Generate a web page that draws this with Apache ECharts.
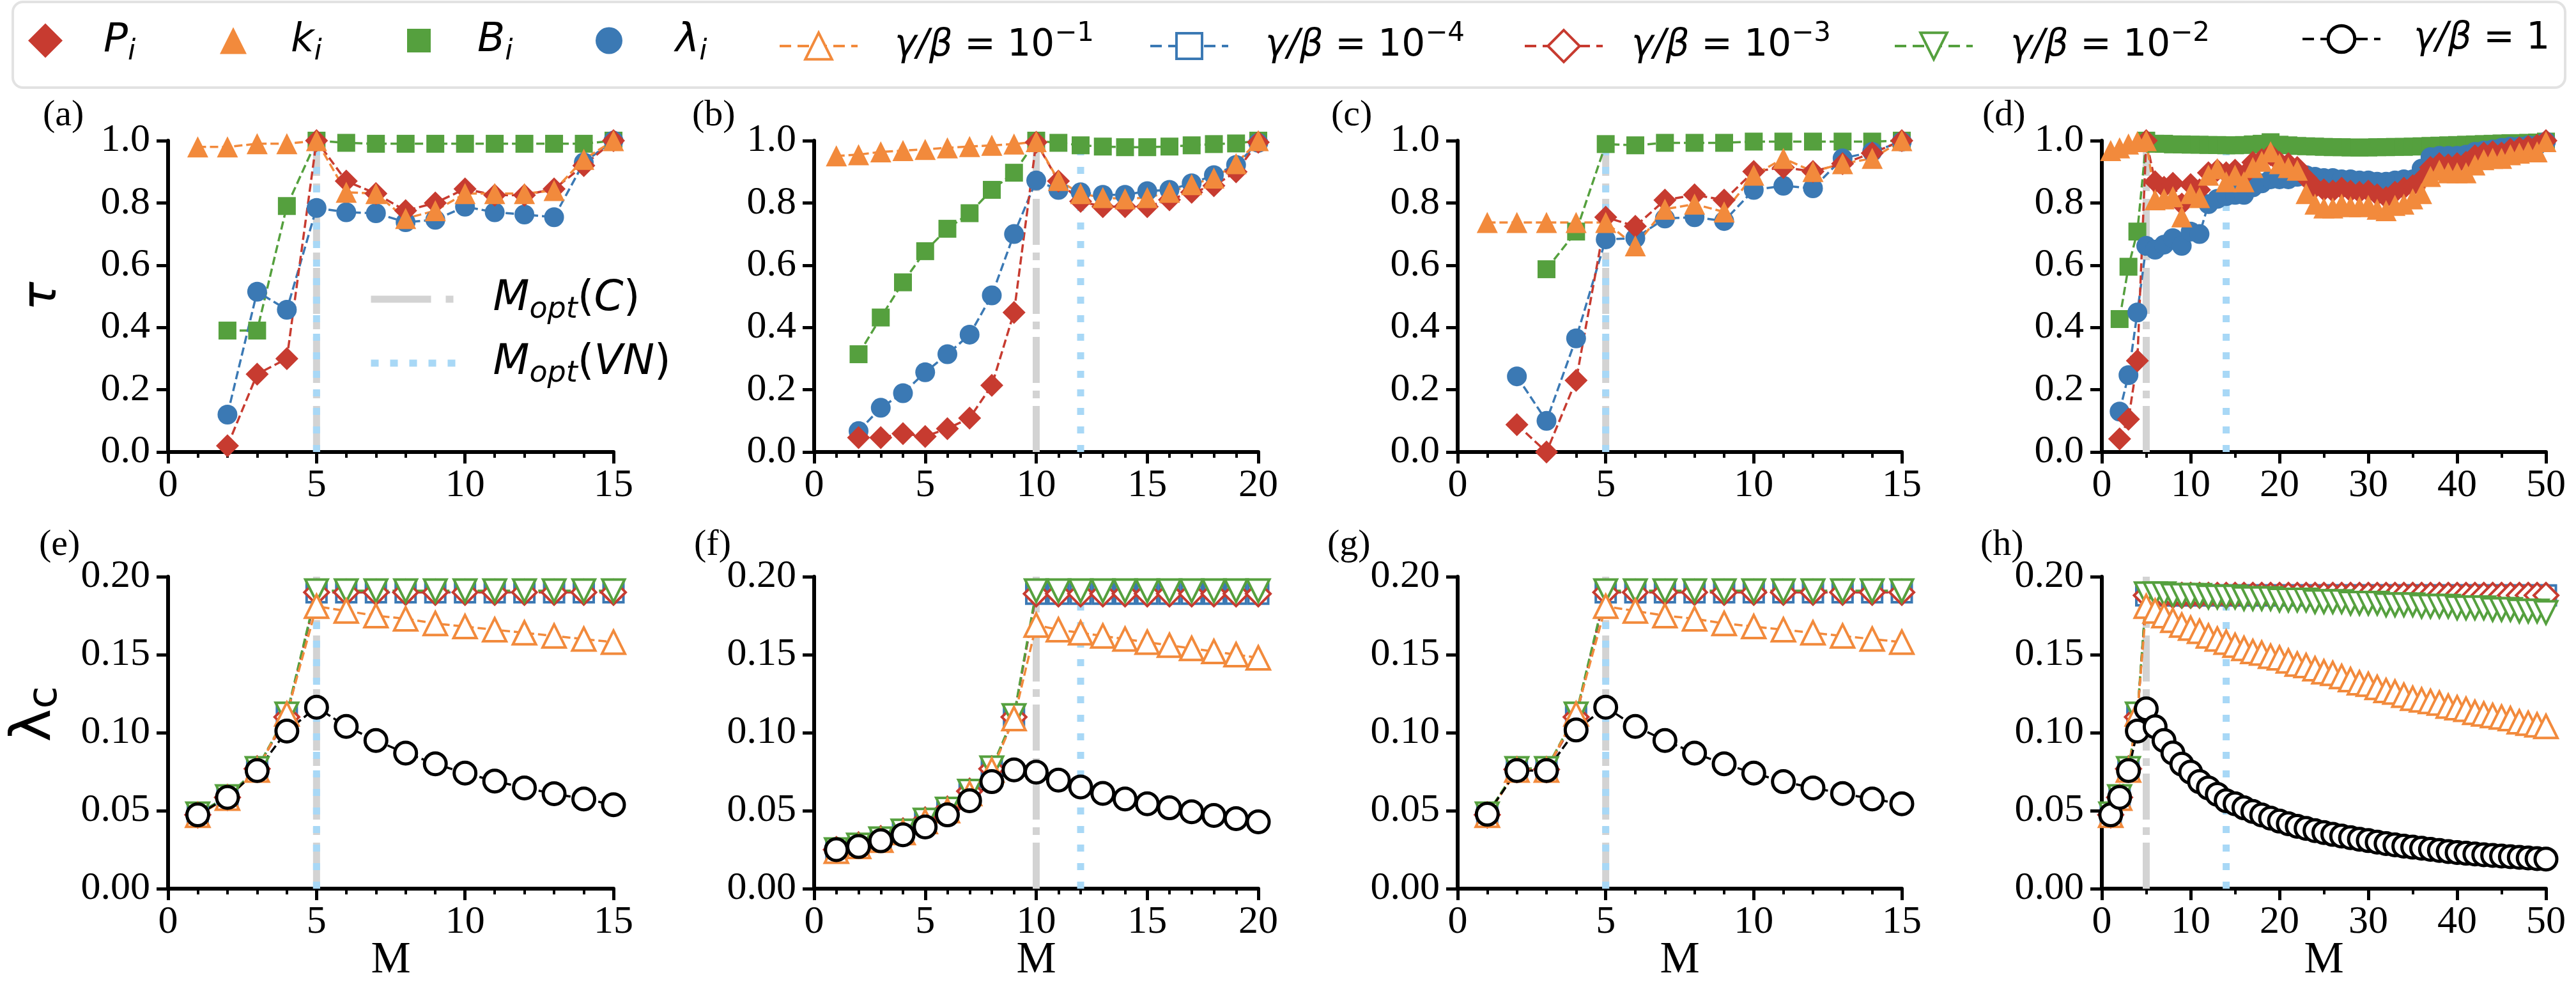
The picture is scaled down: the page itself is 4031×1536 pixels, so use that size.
<!DOCTYPE html>
<html><head><meta charset="utf-8">
<script src="https://cdn.jsdelivr.net/npm/echarts/dist/echarts.min.js"></script>
<style>html,body{margin:0;padding:0;background:#fff}#c{width:4031px;height:1536px}</style>
</head><body><div id="c"></div>
<script>
// ---------------- DATA ----------------
// x axes (M) per column
const xMax = [15, 20, 15, 50];
const xInterval = [5, 5, 5, 10];
const xMinorSplit = [5, 5, 5, 2];
// optimal M markers per column
const moptC = [5, 10, 5, 5];
const moptVN = [5, 12, 5, 14];
const topLabels = ['(a)', '(b)', '(c)', '(d)'];
const bottomLabels = ['(e)', '(f)', '(g)', '(h)'];

// ---- tau panels (values at M = 1, 2, 3, ...) ----
const a_P = [null,0.02,0.25,0.30,1.0,0.87,0.83,0.775,0.80,0.845,0.825,0.825,0.845,0.92,1.0];
const a_k = [0.98,0.98,0.99,0.99,1.0,0.834,0.83,0.75,0.775,0.83,0.83,0.83,0.84,0.94,1.0];
const a_B = [null,0.39,0.39,0.79,1.0,0.993,0.99,0.99,0.99,0.99,0.99,0.99,0.99,0.99,1.0];
const a_L = [null,0.12,0.515,0.457,0.784,0.77,0.767,0.738,0.746,0.788,0.77,0.763,0.754,0.93,1.0];

const b_P = [null,0.046,0.046,0.059,0.05,0.075,0.109,0.214,0.448,0.995,0.87,0.805,0.788,0.788,0.788,0.81,0.834,0.855,0.90,0.995];
const b_k = [0.951,0.955,0.964,0.968,0.972,0.977,0.981,0.985,0.989,0.997,0.872,0.83,0.817,0.813,0.817,0.834,0.859,0.88,0.926,1.0];
const b_B = [null,0.314,0.432,0.545,0.645,0.717,0.767,0.842,0.897,1.0,0.993,0.985,0.981,0.979,0.979,0.981,0.985,0.989,0.991,1.0];
const b_L = [null,0.067,0.142,0.189,0.256,0.314,0.377,0.503,0.70,0.872,0.842,0.834,0.826,0.826,0.838,0.842,0.863,0.889,0.922,0.993];

const c_P = [null,0.088,0.0,0.23,0.754,0.725,0.809,0.826,0.809,0.901,0.914,0.901,0.926,0.96,1.0];
const c_k = [0.737,0.737,0.737,0.737,0.737,0.662,0.78,0.796,0.771,0.889,0.943,0.901,0.926,0.943,1.0];
const c_B = [null,null,0.587,0.708,0.989,0.985,0.993,0.993,0.993,0.997,0.997,0.997,0.997,0.997,1.0];
const c_L = [null,0.243,0.10,0.365,0.683,0.687,0.75,0.754,0.742,0.842,0.855,0.847,0.943,0.964,0.997];

const d_P = [null,0.042,0.105,0.293,1.0,0.868,0.85,0.863,0.796,0.859,0.842,0.897,0.905,0.897,0.905,0.889,0.93,0.939,0.955,0.93,0.926,0.914,0.88,0.85,0.842,0.838,0.847,0.838,0.834,0.838,0.826,0.817,0.834,0.847,0.855,0.876,0.914,0.926,0.922,0.926,0.93,0.951,0.96,0.964,0.96,0.972,0.977,0.981,0.985,1.0];
const d_k = [0.968,0.977,0.989,0.997,1.0,0.81,0.813,0.82,0.755,0.83,0.817,0.889,0.91,0.868,0.889,0.868,0.914,0.934,0.964,0.926,0.914,0.905,0.83,0.796,0.784,0.784,0.796,0.788,0.788,0.792,0.78,0.775,0.792,0.796,0.813,0.83,0.885,0.905,0.897,0.897,0.897,0.922,0.939,0.943,0.943,0.955,0.96,0.964,0.964,0.997];
const d_B = [null,0.427,0.595,0.708,1.0,0.99,0.99,0.988,0.988,0.987,0.987,0.986,0.986,0.985,0.985,0.986,0.988,0.99,0.995,0.987,0.985,0.983,0.982,0.981,0.98,0.979,0.979,0.978,0.978,0.978,0.979,0.979,0.98,0.98,0.981,0.982,0.983,0.984,0.985,0.986,0.987,0.988,0.989,0.99,0.991,0.992,0.992,0.993,0.994,0.997];
const d_L = [null,0.13,0.247,0.448,0.662,0.65,0.666,0.687,0.662,0.708,0.70,0.796,0.813,0.822,0.826,0.826,0.85,0.863,0.876,0.876,0.876,0.884,0.889,0.884,0.88,0.88,0.876,0.876,0.872,0.872,0.868,0.868,0.872,0.876,0.876,0.91,0.947,0.951,0.951,0.951,0.955,0.964,0.968,0.972,0.977,0.981,0.981,0.985,0.985,0.997];

// ---- lambda_c panels (values at M = 1, 2, 3, ...) ----
const e_g4 = [0.048,0.059,0.077,0.111,0.19,0.19,0.19,0.19,0.19,0.19,0.19,0.19,0.19,0.19,0.19];
const e_g3 = [0.0473,0.0585,0.0768,0.110,0.19,0.19,0.19,0.19,0.19,0.19,0.19,0.19,0.19,0.19,0.19];
const e_g2 = [0.048,0.059,0.077,0.112,0.191,0.191,0.191,0.191,0.191,0.191,0.191,0.191,0.191,0.191,0.191];
const e_g1 = [0.047,0.058,0.076,0.112,0.181,0.178,0.175,0.173,0.170,0.168,0.166,0.164,0.162,0.160,0.158];
const e_g0 = [0.0473,0.0585,0.0757,0.101,0.1163,0.104,0.095,0.0869,0.080,0.0741,0.069,0.0646,0.0609,0.0575,0.0538];

const f_g4 = [0.025,0.028,0.032,0.037,0.044,0.051,0.0625,0.0768,0.110,0.189,0.189,0.189,0.189,0.189,0.189,0.189,0.189,0.189,0.189,0.189];
const f_g3 = [0.025,0.028,0.032,0.037,0.044,0.051,0.0625,0.0768,0.110,0.189,0.189,0.189,0.189,0.189,0.189,0.189,0.189,0.189,0.189,0.189];
const f_g2 = [0.025,0.028,0.032,0.037,0.044,0.051,0.0625,0.0775,0.111,0.191,0.191,0.191,0.191,0.191,0.191,0.191,0.191,0.191,0.191,0.191];
const f_g1 = [0.024,0.027,0.031,0.036,0.043,0.050,0.061,0.076,0.109,0.169,0.166,0.164,0.162,0.160,0.158,0.156,0.154,0.152,0.150,0.148];
const f_g0 = [0.025,0.027,0.0307,0.0345,0.0396,0.0473,0.0564,0.0686,0.0761,0.0747,0.0696,0.0652,0.0611,0.0575,0.0544,0.0518,0.0493,0.0469,0.0449,0.0428];

const g_g4 = [0.0473,0.0764,0.0764,0.110,0.19,0.19,0.19,0.19,0.19,0.19,0.19,0.19,0.19,0.19,0.19];
const g_g3 = [0.0473,0.0764,0.0764,0.110,0.19,0.19,0.19,0.19,0.19,0.19,0.19,0.19,0.19,0.19,0.19];
const g_g2 = [0.048,0.077,0.077,0.112,0.191,0.191,0.191,0.191,0.191,0.191,0.191,0.191,0.191,0.191,0.191];
const g_g1 = [0.047,0.076,0.076,0.112,0.181,0.178,0.175,0.173,0.170,0.168,0.166,0.164,0.162,0.160,0.158];
const g_g0 = [0.0477,0.0757,0.0757,0.1017,0.1163,0.104,0.095,0.0869,0.080,0.0741,0.0686,0.0646,0.061,0.0575,0.0544];

const h_g4 = [0.0473,0.0585,0.0768,0.110,0.188,0.188,0.188,0.188,0.188,0.188,0.188,0.188,0.188,0.188,0.188,0.188,0.188,0.188,0.188,0.188,0.188,0.188,0.188,0.188,0.188,0.188,0.188,0.188,0.188,0.188,0.188,0.188,0.188,0.188,0.188,0.188,0.188,0.188,0.188,0.188,0.188,0.188,0.188,0.188,0.188,0.188,0.188,0.188,0.188,0.188];
const h_g3 = [0.0473,0.0585,0.0768,0.110,0.188,0.188,0.188,0.188,0.188,0.188,0.188,0.188,0.188,0.188,0.188,0.188,0.188,0.188,0.188,0.188,0.188,0.188,0.188,0.188,0.188,0.188,0.188,0.188,0.188,0.188,0.188,0.188,0.188,0.188,0.188,0.188,0.188,0.188,0.188,0.188,0.188,0.188,0.188,0.188,0.188,0.188,0.188,0.188,0.188,0.188];
const h_g2 = [0.048,0.059,0.077,0.112,0.189,0.189,0.189,0.188,0.188,0.188,0.188,0.187,0.187,0.187,0.187,0.186,0.186,0.186,0.186,0.185,0.185,0.185,0.185,0.184,0.184,0.184,0.184,0.183,0.183,0.183,0.183,0.182,0.182,0.182,0.182,0.181,0.181,0.181,0.181,0.180,0.180,0.180,0.180,0.179,0.179,0.179,0.178,0.178,0.178,0.177];
const h_g1 = [0.047,0.058,0.076,0.112,0.181,0.178,0.175,0.172,0.169,0.167,0.165,0.162,0.160,0.158,0.156,0.154,0.152,0.151,0.149,0.148,0.146,0.144,0.143,0.141,0.139,0.138,0.136,0.134,0.132,0.131,0.129,0.127,0.126,0.124,0.122,0.121,0.120,0.119,0.117,0.116,0.115,0.113,0.112,0.111,0.110,0.109,0.107,0.106,0.105,0.104];
const h_g0 = [0.0473,0.0585,0.0757,0.101,0.1153,0.1038,0.095,0.087,0.0798,0.0747,0.0686,0.0646,0.0605,0.0564,0.0544,0.0518,0.0495,0.0472,0.0452,0.0433,0.0416,0.0400,0.0386,0.0372,0.0360,0.0348,0.0337,0.0327,0.0317,0.0308,0.0298,0.0289,0.0281,0.0273,0.0266,0.0259,0.0252,0.0245,0.0238,0.0232,0.0227,0.0222,0.0217,0.0213,0.0209,0.0205,0.0201,0.0197,0.0193,0.0190];

const tauP = [a_P, b_P, c_P, d_P];
const tauK = [a_k, b_k, c_k, d_k];
const tauB = [a_B, b_B, c_B, d_B];
const tauL = [a_L, b_L, c_L, d_L];
const lam4 = [e_g4, f_g4, g_g4, h_g4];
const lam3 = [e_g3, f_g3, g_g3, h_g3];
const lam2 = [e_g2, f_g2, g_g2, h_g2];
const lam1 = [e_g1, f_g1, g_g1, h_g1];
const lam0 = [e_g0, f_g0, g_g0, h_g0];

// ---------------- STYLE ----------------
const RED = '#c73b30', ORANGE = '#f28a3c', GREEN = '#55a03e', BLUE = '#3b79b4', BLACK = '#000000';
const GRAY = '#d3d3d3', SKY = '#a8d8f6';
const GX = [263, 1274, 2281, 3289];
const GW = [697, 695, 695, 695];
const SERIF = 'Liberation Serif', SANS = 'DejaVu Sans';

const toXY = arr => arr.map((v, i) => [i + 1, v]).filter(p => p[1] !== null);

const grid = [], xAxis = [], yAxis = [], series = [];
for (let r = 0; r < 2; r++) {
  for (let c = 0; c < 4; c++) {
    const gi = r * 4 + c;
    grid.push({left: GX[c], top: r ? 902 : 220, width: GW[c], height: r ? 488 : 487,
      containLabel: false, outerBoundsMode: 'none'});
    const xa = {
      type: 'value', gridIndex: gi, min: 0, max: xMax[c], interval: xInterval[c],
      axisLine: {show: true, onZero: false, lineStyle: {color: '#000', width: 6}},
      axisTick: {show: true, length: 18, lineStyle: {color: '#000', width: 5}},
      minorTick: {show: true, splitNumber: xMinorSplit[c], length: 9, lineStyle: {color: '#000', width: 4}},
      splitLine: {show: false}, minorSplitLine: {show: false},
      axisLabel: {color: '#000', fontFamily: SERIF, fontSize: 62, margin: 22},
      nameMoveOverlap: false
    };
    if (r === 1) {
      xa.name = 'M'; xa.nameLocation = 'middle'; xa.nameGap = 78;
      xa.nameTextStyle = {color: '#000', fontFamily: SERIF, fontSize: 70};
    }
    xAxis.push(xa);
    const ya = {
      type: 'value', gridIndex: gi, min: 0, max: r ? 0.2 : 1, interval: r ? 0.05 : 0.2,
      axisLine: {show: true, onZero: false, lineStyle: {color: '#000', width: 6}},
      axisTick: {show: true, length: 18, lineStyle: {color: '#000', width: 5}},
      splitLine: {show: false},
      axisLabel: {color: '#000', fontFamily: SERIF, fontSize: 62, margin: 28,
        formatter: v => v.toFixed(r ? 2 : 1)},
      nameMoveOverlap: false
    };
    if (gi === 0) {
      ya.name = 'τ'; ya.nameLocation = 'middle'; ya.nameRotate = 90; ya.nameGap = 158;
      ya.nameTextStyle = {color: '#000', fontFamily: SANS, fontStyle: 'italic', fontSize: 75};
    }
    if (gi === 4) {
      ya.name = '{p| }{l|λ}{c|c}'; ya.nameLocation = 'middle'; ya.nameRotate = 90; ya.nameGap = 160;
      ya.nameTextStyle = {color: '#000', rich: {
        p: {width: 58, fontSize: 20},
        l: {fontFamily: SANS, fontSize: 88, lineHeight: 96, color: '#000'},
        c: {fontFamily: SANS, fontSize: 64, lineHeight: 64, verticalAlign: 'bottom', color: '#000'}
      }};
    }
    yAxis.push(ya);

    const ymax = r ? 0.2 : 1;
    series.push({type: 'line', name: 'M_opt(C)', xAxisIndex: gi, yAxisIndex: gi,
      data: [[moptC[c], 0], [moptC[c], ymax]], symbol: 'none', z: 1, clip: false,
      lineStyle: {color: GRAY, width: 11, type: [72, 12, 12, 12]}, emphasis: {disabled: true}});
    series.push({type: 'line', name: 'M_opt(VN)', xAxisIndex: gi, yAxisIndex: gi,
      data: [[moptVN[c], 0], [moptVN[c], ymax]], symbol: 'none', z: 1, clip: false,
      lineStyle: {color: SKY, width: 11, type: [11, 18]}, emphasis: {disabled: true}});

    if (r === 0) {
      const mk = (arr, name, color, symbol, size) => ({
        type: 'line', name, xAxisIndex: gi, yAxisIndex: gi, data: toXY(arr[c]),
        symbol, symbolSize: size, clip: false, z: 3,
        itemStyle: {color, borderWidth: 0},
        lineStyle: {color, width: 3.5, type: [13, 6]}, emphasis: {disabled: true}
      });
      series.push(mk(tauB, 'B_i', GREEN, 'rect', 28));
      series.push(mk(tauL, 'λ_i', BLUE, 'circle', 31));
      series.push(mk(tauP, 'P_i', RED, 'diamond', 36));
      series.push(mk(tauK, 'k_i', ORANGE, 'triangle', 33));
    } else {
      const mk = (arr, name, color, symbol, size, rot, bw) => ({
        type: 'line', name, xAxisIndex: gi, yAxisIndex: gi, data: toXY(arr[c]),
        symbol, symbolSize: size, symbolRotate: rot, clip: false, z: 3,
        itemStyle: {color: '#fff', borderColor: color, borderWidth: bw},
        lineStyle: {color, width: 3.5, type: [13, 6]}, emphasis: {disabled: true}
      });
      series.push(mk(lam4, 'g4', BLUE, 'rect', 31, 0, 4));
      series.push(mk(lam3, 'g3', RED, 'diamond', 38, 0, 4));
      series.push(mk(lam2, 'g2', GREEN, 'triangle', 35, 180, 4));
      series.push(mk(lam1, 'g1', ORANGE, 'triangle', 36, 0, 4));
      series.push(mk(lam0, 'g0', BLACK, 'circle', 34, 0, 5));
    }
  }
}

// ---------------- LEGENDS ----------------
const richBase = (pad, fs) => ({
  p: {width: pad, fontSize: 20},
  i: {fontFamily: SANS, fontStyle: 'italic', fontSize: fs, lineHeight: 80, color: '#000'},
  n: {fontFamily: SANS, fontSize: fs, lineHeight: 80, color: '#000'},
  s: {fontFamily: SANS, fontStyle: 'italic', fontSize: Math.round(fs * 0.7), lineHeight: Math.round(fs * 0.7), verticalAlign: 'bottom', color: '#000'},
  u: {fontFamily: SANS, fontSize: Math.round(fs * 0.72), lineHeight: 52, verticalAlign: 'top', color: '#000'}
});
const legend = [];
function markerLegend(name, icon, color, left, size, pad, fmt) {
  legend.push({left, top: 72 - 40, padding: 0, selectedMode: false, itemWidth: size, itemHeight: size,
    data: [{name, icon, itemStyle: {color, borderWidth: 0}}],
    formatter: () => fmt, textStyle: {color: '#000', rich: richBase(pad, 63)}});
}
function lineLegend(name, color, left, ih, pad, fmt, bw) {
  legend.push({left, top: 72 - 40, padding: 0, selectedMode: false, itemWidth: 122, itemHeight: ih,
    data: [{name, itemStyle: {color: '#fff', borderColor: color, borderWidth: bw},
      lineStyle: {color, width: 4, type: [18, 10], opacity: 1}}],
    formatter: () => fmt, textStyle: {color: '#000', rich: richBase(pad, 58)}});
}
markerLegend('P_i', 'diamond', RED, 44, 54, 59, '{p| }{i|P}{s|i}');
markerLegend('k_i', 'triangle', ORANGE, 344, 42, 64, '{p| }{i|k}{s|i}');
markerLegend('B_i', 'rect', GREEN, 637, 37, 68, '{p| }{i|B}{s|i}');
markerLegend('λ_i', 'circle', BLUE, 932, 42, 78, '{p| }{i|λ}{s|i}');
lineLegend('g1', ORANGE, 1218, 52, 53, '{p| }{i|γ/β}{n| = 10}{u|−1}', 4);
lineLegend('g4', BLUE, 1798, 50, 53, '{p| }{i|γ/β}{n| = 10}{u|−4}', 4);
lineLegend('g3', RED, 2384, 62, 40, '{p| }{i|γ/β}{n| = 10}{u|−3}', 4);
lineLegend('g2', GREEN, 2963, 52, 54, '{p| }{i|γ/β}{n| = 10}{u|−2}', 4);
lineLegend('g0', BLACK, 3601, 52, 47, '{p| }{i|γ/β}{n| = 1}', 5);

legend.push({left: 575, top: 475 - 40, orient: 'vertical', padding: 0, selectedMode: false,
  itemWidth: 133, itemHeight: 30, itemGap: 27,
  data: [
    {name: 'M_opt(C)', itemStyle: {opacity: 0}, lineStyle: {color: GRAY, width: 11, type: [94, 23, 12, 23], opacity: 1}},
    {name: 'M_opt(VN)', itemStyle: {opacity: 0}, lineStyle: {color: SKY, width: 11, type: [12, 18], opacity: 1}}
  ],
  formatter: name => name === 'M_opt(C)' ? '{p| }{i|M}{s|opt}{n|(}{i|C}{n|)}' : '{p| }{i|M}{s|opt}{n|(}{i|VN}{n|)}',
  textStyle: {color: '#000', rich: richBase(53, 66)}});

// ---------------- GRAPHIC (frame + panel letters) ----------------
const graphic = [{type: 'rect', z: -1, shape: {x: 20, y: 3, width: 3994, height: 134, r: 16},
  style: {fill: '#fff', stroke: '#e2e2e2', lineWidth: 4}}];
const topLX = [67, 1083, 2083, 3102], botLX = [61, 1086, 2077, 3099];
for (let c = 0; c < 4; c++) {
  graphic.push({type: 'text', x: topLX[c], y: 181, style: {text: topLabels[c], fontFamily: SERIF, fontSize: 58, fill: '#000', verticalAlign: 'middle', align: 'left'}});
  graphic.push({type: 'text', x: botLX[c], y: 853, style: {text: bottomLabels[c], fontFamily: SERIF, fontSize: 58, fill: '#000', verticalAlign: 'middle', align: 'left'}});
}

const chart = echarts.init(document.getElementById('c'), null, {renderer: 'canvas'});
chart.setOption({animation: false, backgroundColor: '#fff', grid, xAxis, yAxis, series, legend, graphic});
</script></body></html>
